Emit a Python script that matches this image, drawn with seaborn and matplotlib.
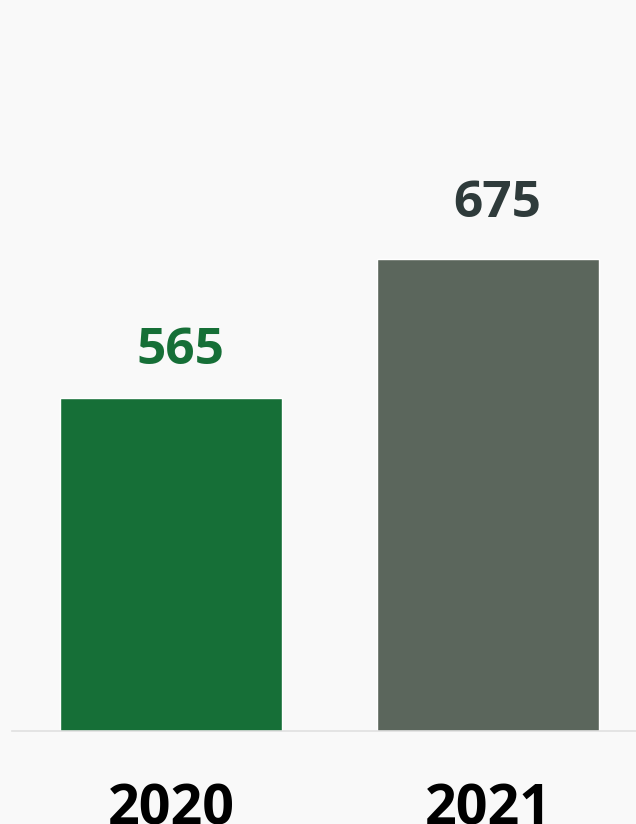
import matplotlib
matplotlib.use("Agg")
import matplotlib.pyplot as plt
import seaborn as sns
import pandas as pd

years = ["2020", "2021"]
values = [565, 675]
bar_colors = ["#166f37", "#5b665c"]
label_colors = ["#166f37", "#2f3b3b"]

df = pd.DataFrame({"year": years, "value": values})

sns.set_theme(style="white")
plt.rcParams["font.family"] = ["Open Sans", "DejaVu Sans"]

fig = plt.figure(figsize=(6.36, 8.24), dpi=100, facecolor="#f9f9f9")
ax = fig.add_axes([12 / 636, 93 / 824, 624 / 636, 731 / 824])
ax.set_facecolor("#f9f9f9")

sns.barplot(data=df, x="year", y="value", hue="year", palette=bar_colors,
            width=0.70, legend=False, ax=ax, saturation=1)

ax.set_xlim(-0.5016, 1.467)
ax.set_ylim(301, 880)

# value labels above bars
offsets = [24, 30]
for i, (v, c) in enumerate(zip(values, label_colors)):
    ax.annotate(str(v), xy=(i, v), xytext=(6.5, offsets[i]), textcoords="offset points",
                ha="center", va="baseline", fontsize=37, fontweight="bold", color=c)

ax.set_yticks([])
ax.set_xlabel("")
ax.set_ylabel("")
ax.tick_params(axis="x", length=0, pad=37)
for lbl in ax.get_xticklabels():
    lbl.set_fontsize(40)
    lbl.set_fontweight("bold")
    lbl.set_color("#000000")

for s in ["top", "left", "right"]:
    ax.spines[s].set_visible(False)
ax.spines["bottom"].set_color("#e0e0e0")
ax.spines["bottom"].set_linewidth(1.2)

fig.savefig("out.png", dpi=100, facecolor=fig.get_facecolor())
